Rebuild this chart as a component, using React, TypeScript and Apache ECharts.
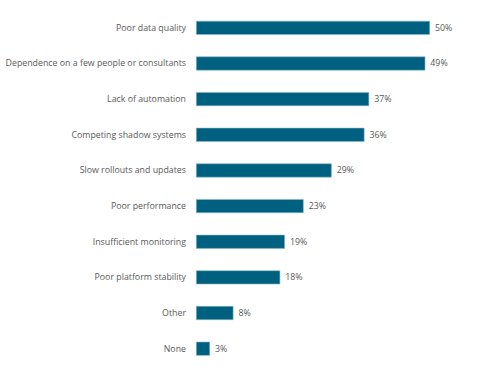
import React, { useEffect, useRef } from "react";
import * as echarts from "echarts";

const categories = [
  "Poor data quality",
  "Dependence on a few people or consultants",
  "Lack of automation",
  "Competing shadow systems",
  "Slow rollouts and updates",
  "Poor performance",
  "Insufficient monitoring",
  "Poor platform stability",
  "Other",
  "None",
];
const values = [50, 49, 37, 36, 29, 23, 19, 18, 8, 3];

export default function App() {
  const ref = useRef<HTMLDivElement>(null);
  useEffect(() => {
    if (!ref.current) return;
    const chart = echarts.init(ref.current, undefined, { renderer: "svg" });
    chart.setOption({
      animation: false,
      grid: { left: 196, top: 10, width: 234, bottom: 10.5, containLabel: false },
      xAxis: {
        type: "value",
        min: 0,
        max: 50,
        show: false,
      },
      yAxis: {
        type: "category",
        inverse: true,
        data: categories,
        axisLine: { show: false },
        axisTick: { show: false },
        axisLabel: {
          margin: 10,
          color: "#595959",
          fontSize: 8.8,
          fontFamily: "Open Sans",
        },
      },
      series: [
        {
          type: "bar",
          data: values,
          barWidth: 14,
          itemStyle: { color: "#00607f", borderColor: "#8fb8c8", borderWidth: 0.6 },
          label: {
            show: true,
            position: "right",
            distance: 5,
            formatter: "{c}%",
            color: "#595959",
            fontSize: 8.8,
            fontFamily: "Open Sans",
          },
        },
      ],
    });
    return () => chart.dispose();
  }, []);
  return <div ref={ref} style={{ width: 489, height: 377, position: "absolute", left: 0, top: 0 }} />;
}
